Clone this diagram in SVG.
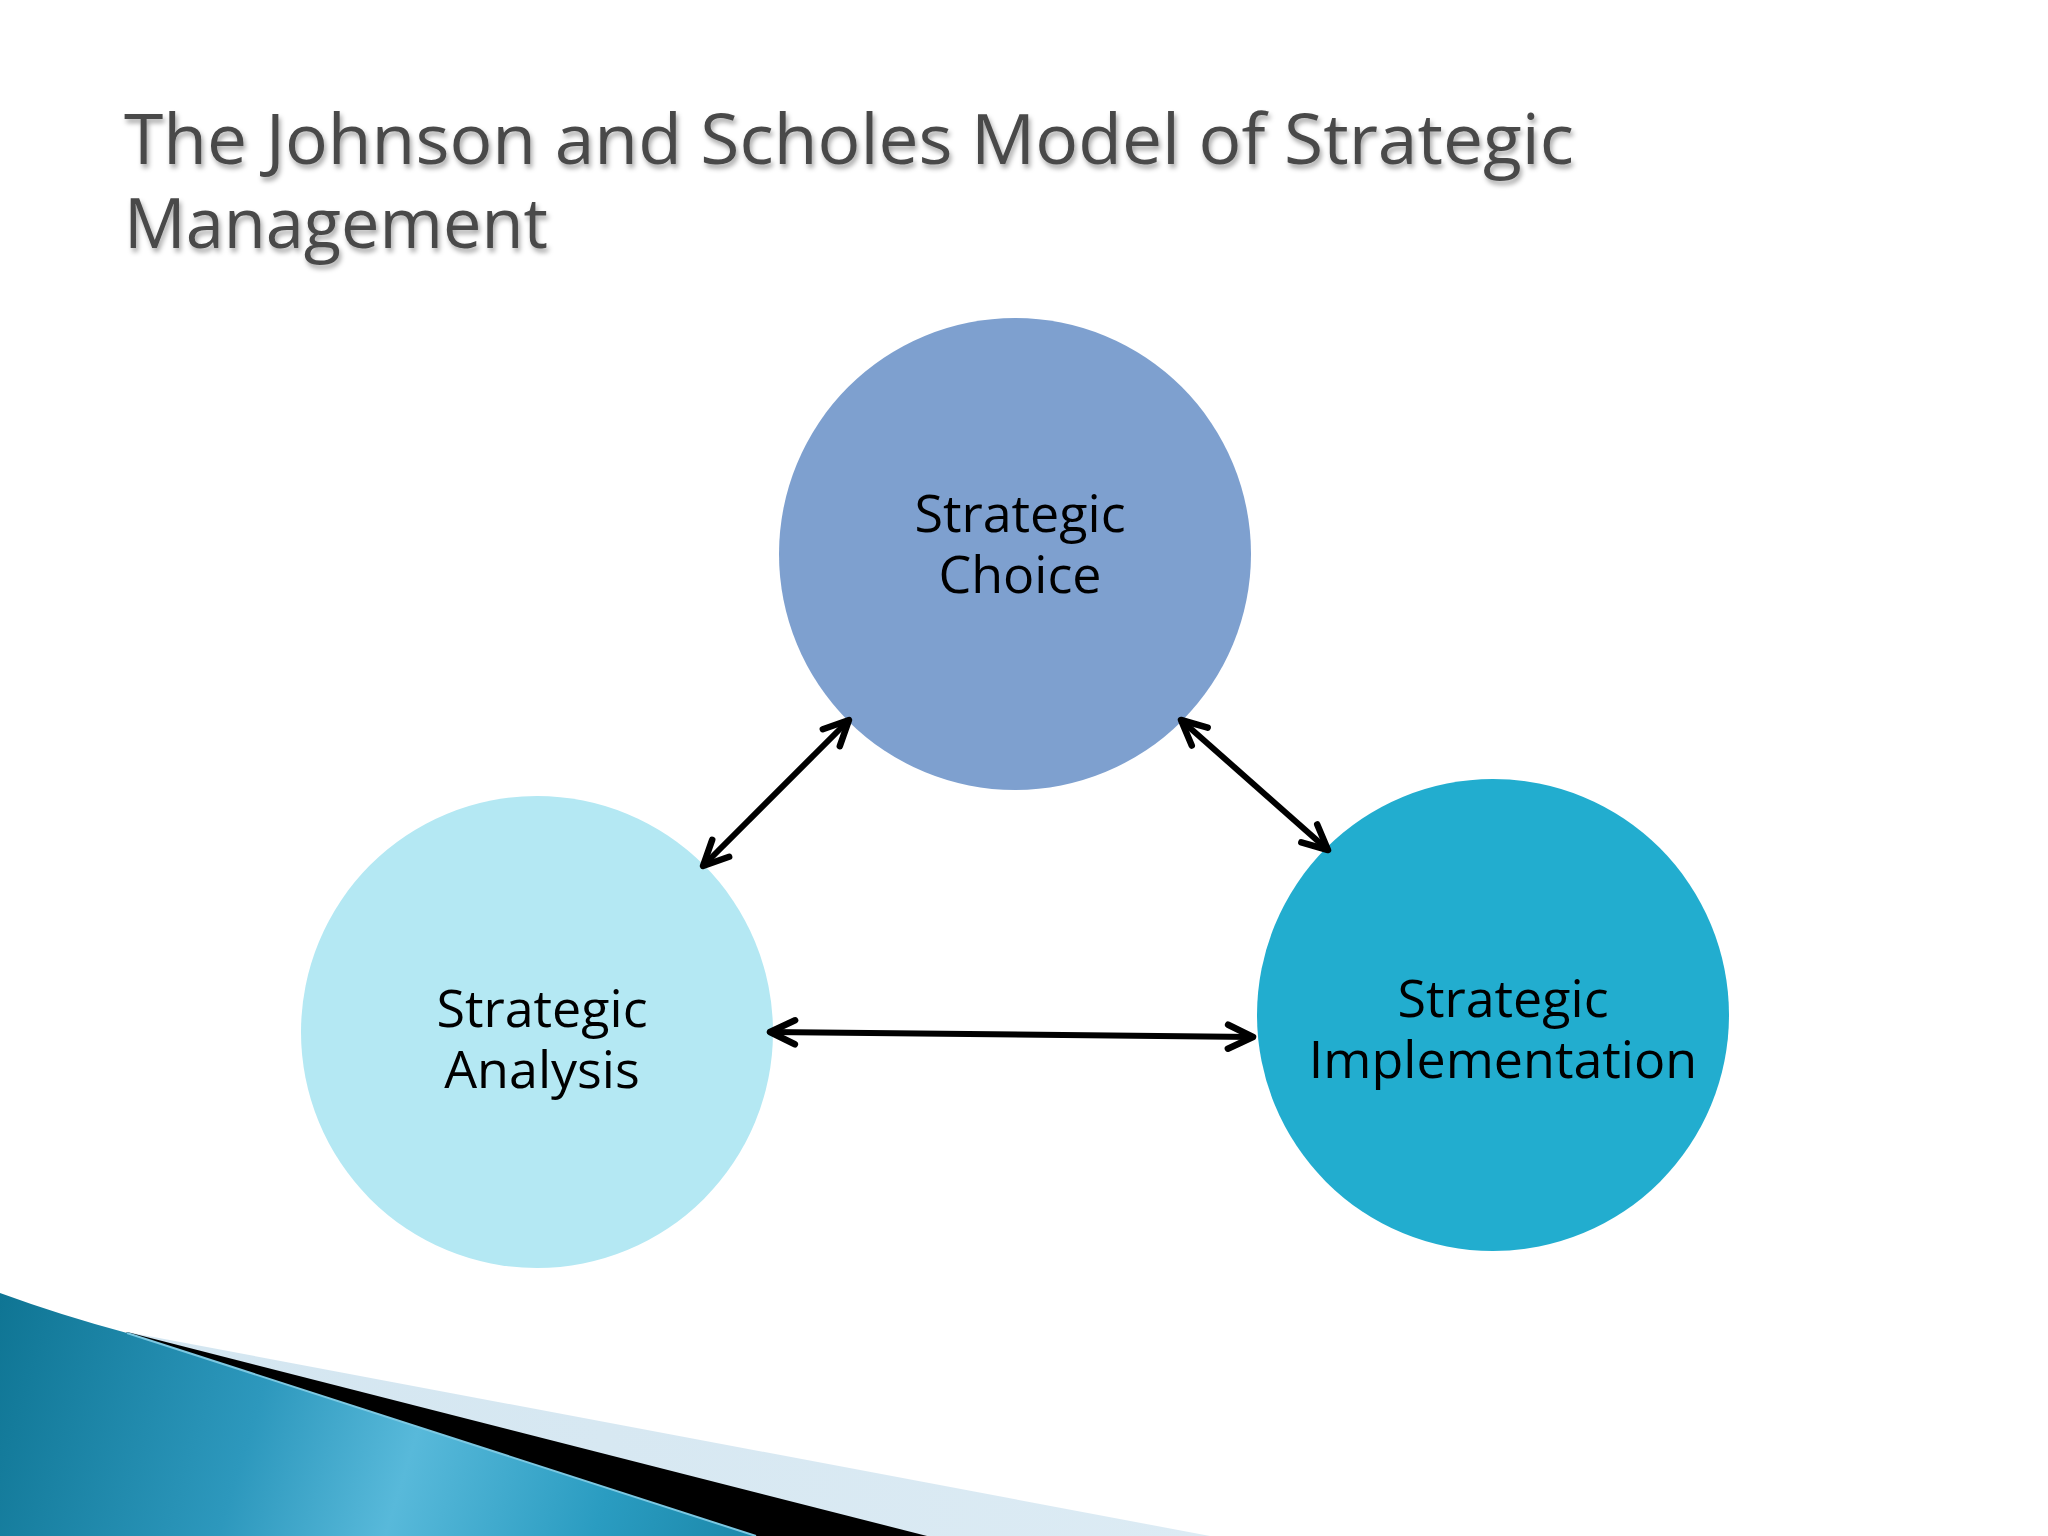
<svg xmlns="http://www.w3.org/2000/svg" width="2048" height="1536" viewBox="0 0 2048 1536">
  <style>
    .title { font-family: "Open Sans", "DejaVu Sans", sans-serif; font-size: 70px; fill: #4a4a4a; }
    .label { font-family: "Open Sans", "DejaVu Sans", sans-serif; font-size: 52px; fill: #000000; text-anchor: middle; }
    .conn { stroke: #000000; stroke-width: 6; fill: none; marker-start: url(#chev); marker-end: url(#chev); }
  </style>
  <defs>
    <marker id="chev" markerUnits="userSpaceOnUse" orient="auto-start-reverse" refX="0" refY="0" markerWidth="40" markerHeight="40" overflow="visible">
      <path d="M-25,-12 L0,0 L-25,12" fill="none" stroke="#000000" stroke-width="6.5" stroke-linecap="round" stroke-linejoin="round"/>
    </marker>
    <filter id="shadow" x="-5%" y="-20%" width="110%" height="150%">
      <feDropShadow dx="2" dy="4" stdDeviation="2.5" flood-color="#000000" flood-opacity="0.35"/>
    </filter>
    <linearGradient id="blueGrad" x1="0" y1="1300" x2="760" y2="1536" gradientUnits="userSpaceOnUse">
      <stop offset="0" stop-color="#0f7594"/>
      <stop offset="0.35" stop-color="#2d98bd"/>
      <stop offset="0.55" stop-color="#58b9da"/>
      <stop offset="0.8" stop-color="#2a9cc1"/>
      <stop offset="1" stop-color="#1b87a9"/>
    </linearGradient>
    <linearGradient id="lightGrad" x1="0" y1="0" x2="1" y2="0">
      <stop offset="0" stop-color="#d2e5f0"/>
      <stop offset="1" stop-color="#dcebf4"/>
    </linearGradient>
  </defs>

  <rect x="0" y="0" width="2048" height="1536" fill="#ffffff"/>

  <!-- bottom-left decoration -->
  <g id="swoosh">
    <polygon points="127,1332 1210,1536 0,1536" fill="url(#lightGrad)"/>
    <polygon points="127,1332 927,1536 0,1536" fill="#000000"/>
    <path d="M0,1293 Q60,1315 127,1333 L756,1536 L0,1536 Z" fill="url(#blueGrad)"/>
    <line x1="127" y1="1333" x2="756" y2="1536" stroke="#7cc8e2" stroke-width="2"/>
  </g>

  <!-- title -->
  <g id="title" filter="url(#shadow)">
    <text class="title" x="124" y="164" textLength="1450" lengthAdjust="spacingAndGlyphs">The Johnson and Scholes Model of Strategic</text>
    <text class="title" x="124" y="248" textLength="424" lengthAdjust="spacingAndGlyphs">Management</text>
  </g>

  <!-- nodes -->
  <g id="node-choice">
    <circle cx="1015" cy="554" r="236" fill="#7ea0cf"/>
    <text class="label" x="1020" y="532">Strategic<tspan x="1020" y="593">Choice</tspan></text>
  </g>
  <g id="node-analysis">
    <circle cx="537" cy="1032" r="236" fill="#b4e8f3"/>
    <text class="label" x="542" y="1027">Strategic<tspan x="542" y="1088">Analysis</tspan></text>
  </g>
  <g id="node-implementation">
    <circle cx="1493" cy="1015" r="236" fill="#22adcf"/>
    <text class="label" x="1503" y="1017">Strategic<tspan x="1503" y="1078">Implementation</tspan></text>
  </g>

  <!-- connectors -->
  <g id="connectors">
    <line class="conn" x1="703" y1="866" x2="849" y2="720"/>
    <line class="conn" x1="1181" y1="720" x2="1328" y2="850"/>
    <line class="conn" x1="770" y1="1032" x2="1253" y2="1037"/>
  </g>
</svg>
